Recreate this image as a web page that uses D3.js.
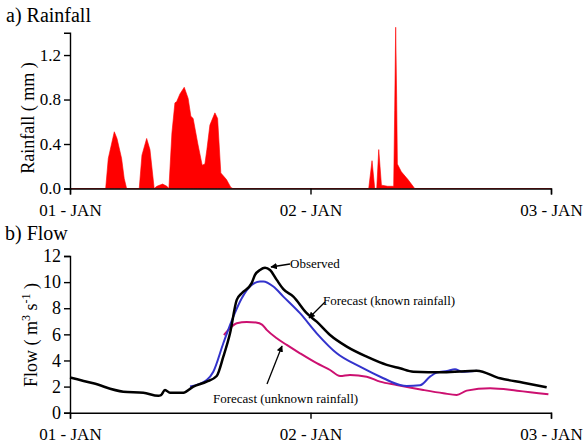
<!DOCTYPE html>
<meta charset="utf-8">
<style>
  body { margin: 0; background: #fff; }
  text { font-family: "Liberation Serif", serif; }
</style>
<svg width="583" height="446"></svg>
<script src="https://d3js.org/d3.v7.min.js"></script>
<script>

// hours since 01-JAN 00:00
var rainHours = [0, 3.56, 3.82, 4.42, 4.69, 5.15, 5.41, 5.65, 6.91, 7.18, 7.65, 7.98, 8.40, 8.67, 9.24, 9.67, 9.87,
  10.17, 10.47, 10.64, 10.97, 11.40, 11.79, 12.06, 12.29, 12.76, 13.19, 13.46, 13.66, 13.96, 14.46, 14.73,
  15.05, 15.62, 16.05, 16.25, 29.81, 30.14, 30.41, 30.61, 30.81, 31.08, 31.7, 32.3, 32.4, 32.5, 32.6, 32.67,
  33.07, 33.73, 34.4, 48];
var rainValues = [0, 0, 0.27, 0.51, 0.45, 0.27, 0.09, 0, 0, 0.3, 0.45, 0.35, 0, 0.02, 0.04, 0.02, 0,
  0.5, 0.77, 0.78, 0.85, 0.91, 0.81, 0.65, 0.63, 0.4, 0.21, 0.22, 0.35, 0.57, 0.68, 0.63,
  0.14, 0.08, 0.01, 0, 0, 0.25, 0, 0, 0.35, 0.03, 0.02, 0.02, 0.7, 1.45, 0.8, 0.22,
  0.15, 0.08, 0, 0];

var obsHours = [0, 2.33, 5.32, 7.32, 8.81, 9.08, 9.48, 9.98, 11.31, 12.31, 13.64, 14.64, 15.30, 15.97, 16.64,
  17.14, 18.13, 18.46, 18.96, 19.46, 19.96, 20.63, 21.29, 22.29, 23.62, 24.62, 25.95, 27.62, 29.61, 31.61,
  32.93, 34.26, 37.26, 40.59, 42.91, 45.24, 47.57];
var obsFlow = [2.7, 2.25, 1.61, 1.53, 1.30, 1.35, 1.74, 1.53, 1.53, 2.0, 2.38, 2.81, 4.29, 6.08, 8.64,
  9.15, 9.92, 10.55, 10.93, 11.1, 10.93, 10.17, 9.46, 8.89, 7.62, 6.97, 5.95, 5.06, 4.29, 3.66,
  3.40, 3.14, 3.10, 3.22, 2.64, 2.30, 1.95];

var knownHours = [11.98, 13.64, 14.30, 15.30, 16.30, 17.14, 18.13, 18.96, 19.29, 20.29, 21.29, 22.95, 24.62,
  26.62, 28.94, 31.27, 32.93, 33.60, 34.93, 35.93, 36.60, 37.63, 38.42, 39.09, 40.59];
var knownFlow = [2.0, 2.5, 3.14, 5.32, 7.36, 8.77, 9.79, 10.04, 10.04, 9.66, 8.89, 7.62, 6.08,
  4.55, 3.52, 2.64, 2.12, 2.05, 2.1, 2.76, 3.07, 3.2, 3.33, 3.14, 3.22];

var unknownHours = [15.37, 15.80, 16.64, 17.64, 18.56, 19.16, 19.63, 20.63, 21.63, 22.95, 24.62, 25.95,
  26.95, 27.94, 29.61, 30.94, 32.60, 35.26, 37.26, 38.59, 39.59, 41.92, 44.61, 47.74];
var unknownFlow = [5.95, 6.34, 6.85, 6.95, 6.9, 6.75, 6.34, 5.70, 5.19, 4.55, 3.79, 3.27,
  2.81, 2.89, 2.76, 2.38, 2.12, 1.74, 1.49, 1.36, 1.69, 1.87, 1.69, 1.41];

var dayTicks = [0, 24, 48];
var dayLabels = ["01 - JAN", "02 - JAN", "03 - JAN"];
var rainTicks = [0, 0.4, 0.8, 1.2];
var flowTicks = [0, 2, 4, 6, 8, 10, 12];

var serif = "Liberation Serif";
var svg = d3.select("svg");

var x = d3.scaleLinear().domain([0, 48]).range([70, 551]);
var yRain = d3.scaleLinear().domain([0, 1.4]).range([188.5, 32.8]);
var yFlow = d3.scaleLinear().domain([0, 12]).range([412.7, 256]);

function zip(xs, ys) {
  return xs.map(function(d, i) { return [d, ys[i]]; });
}

function styleAxis(g, size) {
  g.attr("font-family", serif).attr("font-size", size);
  g.selectAll("path, line").attr("stroke", "#000").attr("stroke-width", 1.4);
  g.selectAll("text").attr("fill", "#000").style("font-family", serif);
}

function xAxis(yPos) {
  var g = svg.append("g")
    .attr("transform", "translate(0," + yPos + ")")
    .call(d3.axisBottom(x).tickValues(dayTicks)
      .tickFormat(function(d, i) { return dayLabels[i]; })
      .tickSizeOuter(0).tickSize(6).tickPadding(9));
  styleAxis(g, 17);
}

// ---- a) rainfall
var rainArea = d3.area()
  .x(function(d) { return x(d[0]); })
  .y0(yRain(0))
  .y1(function(d) { return yRain(d[1]); });

svg.append("path")
  .datum(zip(rainHours, rainValues))
  .attr("d", rainArea)
  .attr("fill", "#ff0000")
  .attr("stroke", "#ff0000")
  .attr("stroke-width", 0.6);

var ra = svg.append("g")
  .attr("transform", "translate(70,0)")
  .call(d3.axisLeft(yRain).tickValues(rainTicks).tickFormat(d3.format(".1f"))
    .tickSizeOuter(0).tickSize(6).tickPadding(3));
styleAxis(ra, 17);
xAxis(yRain(0));

svg.append("text").attr("x", 6).attr("y", 22).attr("font-size", 20)
  .style("font-family", serif).text("a) Rainfall");
svg.append("text")
  .attr("transform", "translate(34," + 118 + ") rotate(-90)")
  .attr("text-anchor", "middle").attr("font-size", 18)
  .style("font-family", serif)
  .text("Rainfall ( mm )");

// ---- b) flow
var line = d3.line()
  .x(function(d) { return x(d[0]); })
  .y(function(d) { return yFlow(d[1]); })
  .curve(d3.curveMonotoneX);

svg.append("path").datum(zip(unknownHours, unknownFlow)).attr("d", line)
  .attr("fill", "none").attr("stroke", "#cc1070").attr("stroke-width", 2);
svg.append("path").datum(zip(knownHours, knownFlow)).attr("d", line)
  .attr("fill", "none").attr("stroke", "#3333cc").attr("stroke-width", 2);
svg.append("path").datum(zip(obsHours, obsFlow)).attr("d", line)
  .attr("fill", "none").attr("stroke", "#000").attr("stroke-width", 2.5);

var fa = svg.append("g")
  .attr("transform", "translate(70,0)")
  .call(d3.axisLeft(yFlow).tickValues(flowTicks)
    .tickSizeOuter(0).tickSize(6).tickPadding(3));
styleAxis(fa, 18);
xAxis(yFlow(0));

svg.append("text").attr("x", 5).attr("y", 240).attr("font-size", 20)
  .style("font-family", serif).text("b) Flow");

var flowLabel = svg.append("text")
  .attr("transform", "translate(37," + 335 + ") rotate(-90)")
  .attr("text-anchor", "middle").attr("font-size", 18)
  .style("font-family", serif);
flowLabel.append("tspan").text("Flow ( m");
flowLabel.append("tspan").attr("font-size", 12).attr("dy", -7).text("3");
flowLabel.append("tspan").attr("dy", 7).text(" s");
flowLabel.append("tspan").attr("font-size", 12).attr("dy", -7).text("-1");
flowLabel.append("tspan").attr("dy", 7).text(" )");

// annotations
svg.append("defs").append("marker")
  .attr("id", "arrow").attr("viewBox", "0 0 10 10")
  .attr("refX", 9).attr("refY", 5)
  .attr("markerWidth", 5).attr("markerHeight", 5)
  .attr("orient", "auto")
  .append("path").attr("d", "M0,0L10,5L0,10z").attr("fill", "#000");

var notes = [
  { text: "Observed", tx: 290, ty: 268, x1: 290, y1: 264, x2: 271, y2: 267 },
  { text: "Forecast (known rainfall)", tx: 323, ty: 305, x1: 325, y1: 302, x2: 309, y2: 318 },
  { text: "Forecast (unknown rainfall)", tx: 213, ty: 403, x1: 267, y1: 384, x2: 282, y2: 346 }
];

notes.forEach(function(n) {
  svg.append("line")
    .attr("x1", n.x1).attr("y1", n.y1).attr("x2", n.x2).attr("y2", n.y2)
    .attr("stroke", "#000").attr("stroke-width", 1.3)
    .attr("marker-end", "url(#arrow)");
  svg.append("text").attr("x", n.tx).attr("y", n.ty)
    .attr("font-size", 13).style("font-family", serif).text(n.text);
});

</script>
